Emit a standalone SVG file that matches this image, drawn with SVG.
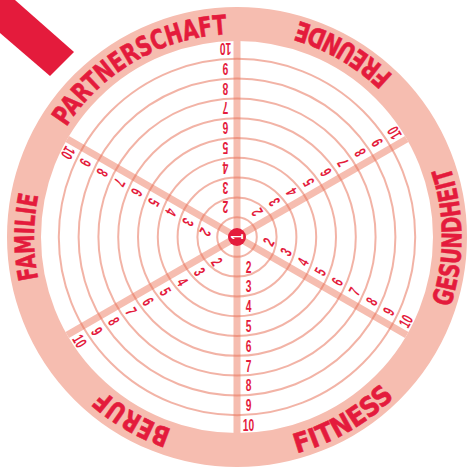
<svg xmlns="http://www.w3.org/2000/svg" xmlns:xlink="http://www.w3.org/1999/xlink" width="468" height="474" viewBox="0 0 468 474">
<style>
.band{fill:none;stroke:#f6bdb0;stroke-width:34}
.spoke{stroke:#f6bdb0;stroke-width:7}
.ring{fill:none;stroke:#e8745c;stroke-opacity:0.55;stroke-width:2}
.cat{font-family:"DejaVu Sans","Liberation Sans",Arial,sans-serif;font-weight:bold;font-size:27px;fill:#e41b3c;stroke:#e41b3c;stroke-width:0.6;stroke-linejoin:round}
.num{font-family:"Liberation Sans",Arial,sans-serif;font-weight:bold;font-size:16.5px;fill:#e41b3c;text-anchor:middle}
</style>
<defs>
<path id="pPartner" d="M46.24,167.57 A203,203 0 0 1 272.25,37.08"/>
<path id="pFamilie" d="M81.49,367.49 A203,203 0 0 1 81.49,106.51"/>
<path id="pBeruf" d="M272.25,436.92 A203,203 0 0 1 46.24,306.43"/>
<path id="pFreunde" d="M447.96,160.22 A224.5,224.5 0 0 0 198.02,15.91"/>
<path id="pGesund" d="M408.98,381.31 A224.5,224.5 0 0 0 408.98,92.69"/>
<path id="pFitness" d="M198.02,458.09 A224.5,224.5 0 0 0 447.96,313.78"/>
<g id="nums">
<text x="0" y="272.7">2</text>
<text x="0" y="292.5">3</text>
<text x="0" y="312.3">4</text>
<text x="0" y="332.1">5</text>
<text x="0" y="351.9">6</text>
<text x="0" y="371.7">7</text>
<text x="0" y="391.5">8</text>
<text x="0" y="411.3">9</text>
<text x="0" y="431.1">10</text>
</g>
</defs>
<rect width="468" height="474" fill="#ffffff"/>
<polygon id="corner-bar" points="0,0 15,0 74,52 50,76 0,33" fill="#e41b3c"/>
<g id="wheel">
<circle cx="237" cy="237" r="196" fill="#ffffff"/>
<circle class="band" cx="237" cy="237" r="213"/>
</g>
<g id="connectors">
<line class="spoke" x1="237" y1="41" x2="237" y2="433"/>
<line class="spoke" x1="67.26" y1="139" x2="406.74" y2="335"/>
<line class="spoke" x1="67.26" y1="335" x2="406.74" y2="139"/>
</g>
<g id="rings">
<circle class="ring" cx="237" cy="237" r="19.8"/>
<circle class="ring" cx="237" cy="237" r="39.6"/>
<circle class="ring" cx="237" cy="237" r="59.4"/>
<circle class="ring" cx="237" cy="237" r="79.2"/>
<circle class="ring" cx="237" cy="237" r="99"/>
<circle class="ring" cx="237" cy="237" r="118.8"/>
<circle class="ring" cx="237" cy="237" r="138.6"/>
<circle class="ring" cx="237" cy="237" r="158.4"/>
<circle class="ring" cx="237" cy="237" r="178.2"/>
</g>
<g id="center">
<circle cx="237" cy="237" r="9" fill="#e41b3c"/>
<text class="num" x="0" y="243" style="fill:#ffffff" transform="rotate(-90 237 237) translate(237 0) scale(0.62 1)">1</text>
</g>
<g id="partnerschaft">
<text class="cat"><textPath xlink:href="#pPartner" href="#pPartner" startOffset="50%" text-anchor="middle" textLength="193" lengthAdjust="spacingAndGlyphs">PARTNERSCHAFT</textPath></text>
<use href="#nums" xlink:href="#nums" class="num" transform="rotate(180 237 237) translate(248.5 0) scale(0.62 1)"/>
</g>
<g id="freunde">
<text class="cat"><textPath xlink:href="#pFreunde" href="#pFreunde" startOffset="50%" text-anchor="middle" textLength="110" lengthAdjust="spacingAndGlyphs">FREUNDE</textPath></text>
<use href="#nums" xlink:href="#nums" class="num" transform="rotate(-120 237 237) translate(248.5 0) scale(0.62 1)"/>
</g>
<g id="gesundheit">
<text class="cat"><textPath xlink:href="#pGesund" href="#pGesund" startOffset="50%" text-anchor="middle" textLength="143" lengthAdjust="spacingAndGlyphs">GESUNDHEIT</textPath></text>
<use href="#nums" xlink:href="#nums" class="num" transform="rotate(-60 237 237) translate(248.5 0) scale(0.62 1)"/>
</g>
<g id="fitness">
<text class="cat"><textPath xlink:href="#pFitness" href="#pFitness" startOffset="50%" text-anchor="middle" textLength="114" lengthAdjust="spacingAndGlyphs">FITNESS</textPath></text>
<use href="#nums" xlink:href="#nums" class="num" transform="translate(248.5 0) scale(0.62 1)"/>
</g>
<g id="beruf">
<text class="cat"><textPath xlink:href="#pBeruf" href="#pBeruf" startOffset="50%" text-anchor="middle" textLength="80" lengthAdjust="spacingAndGlyphs">BERUF</textPath></text>
<use href="#nums" xlink:href="#nums" class="num" transform="rotate(60 237 237) translate(248.5 0) scale(0.62 1)"/>
</g>
<g id="familie">
<text class="cat"><textPath xlink:href="#pFamilie" href="#pFamilie" startOffset="50%" text-anchor="middle" textLength="84" lengthAdjust="spacingAndGlyphs">FAMILIE</textPath></text>
<use href="#nums" xlink:href="#nums" class="num" transform="rotate(120 237 237) translate(248.5 0) scale(0.62 1)"/>
</g>
</svg>
